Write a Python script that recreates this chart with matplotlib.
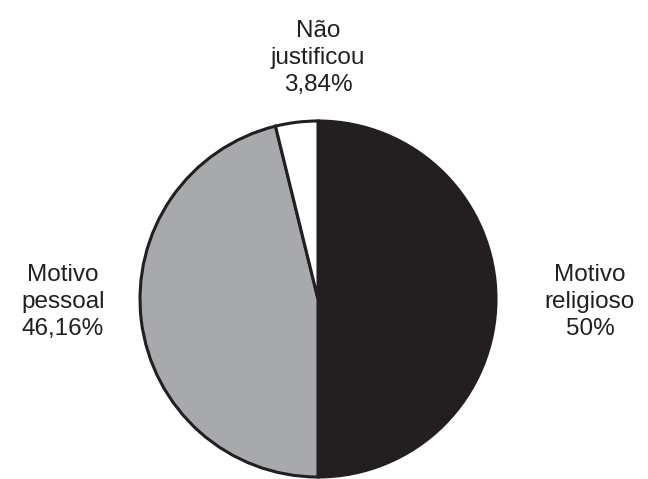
import matplotlib
matplotlib.use("Agg")
import matplotlib.pyplot as plt

# dados
labels = ["Motivo\nreligioso\n50%", "Motivo\npessoal\n46,16%", "Não\njustificou\n3,84%"]
values = [50.0, 46.16, 3.84]
colors = ["#231f20", "#a7a9ac", "#ffffff"]

W, H = 648, 479
fig = plt.figure(figsize=(W / 100, H / 100), dpi=100)
ax = fig.add_axes([0, 0, 1, 1])
ax.set_aspect("equal")
ax.axis("off")

# coords in pixels, y up (negative = down from top)
cx, cy, r = 318, 299, 178
ax.pie(values, colors=colors, startangle=90, counterclock=False,
       center=(cx, -cy), radius=r,
       wedgeprops=dict(edgecolor="#231f20", linewidth=2.2))
ax.set_xlim(0, W)
ax.set_ylim(-H, 0)

txt = dict(ha="center", va="center", fontsize=17.5, color="#231f20",
           family="Liberation Sans", linespacing=1.32)
ax.text(590, -302, labels[0], **txt)
ax.text(63, -302, labels[1], **txt)
ax.text(318, -58, labels[2], **txt)

fig.savefig("out.png", dpi=100)
